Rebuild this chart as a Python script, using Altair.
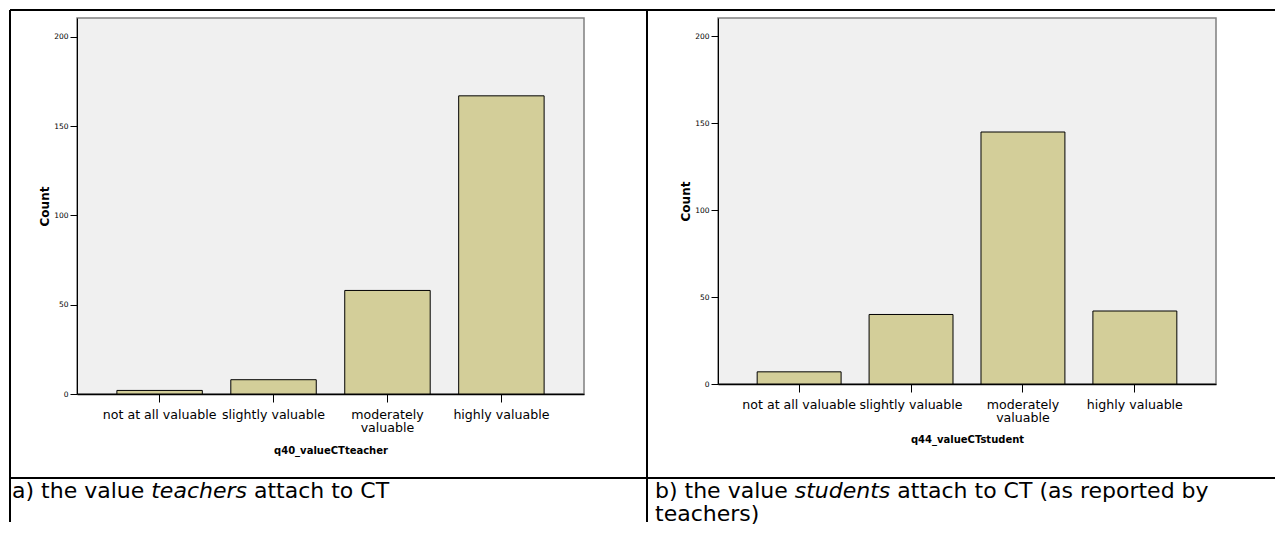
import altair as alt
import pandas as pd

# ---------------- data ----------------
categories = ["not at all valuable", "slightly valuable", "moderately valuable", "highly valuable"]
teacher_counts = [2, 8, 58, 167]
student_counts = [7, 40, 145, 42]
y_ticks = [0, 50, 100, 150, 200]
y_max = 210.6
teacher_axis_title = "q40_valueCTteacher"
student_axis_title = "q44_valueCTstudent"
caption_a = ["a) the value", "teachers", "attach to CT"]
caption_b = ["b) the value", "students", "attach to CT (as reported by", "teachers)"]

# ---------------- style ----------------
FONT = "DejaVu Sans"
BAR_FILL = "#d3ce99"
CAP_SIZE = 22

# DejaVu Sans advance widths (per 1000 em) used to butt caption segments together
W = {" ": 317.9, "a": 612.8, "b": 634.8, "c": 549.8, "d": 634.8, "e": 615.2, "h": 633.8,
     "i": 277.8, "l": 277.8, "n": 633.8, "o": 611.8, "p": 634.8, "r": 411.1, "s": 521.0,
     "t": 392.1, "u": 633.8, "v": 591.8, "y": 591.8, "C": 698.2, "T": 610.8, "(": 390.1, ")": 390.1}


def tw(s, size=CAP_SIZE):
    return sum(W.get(ch, 600) for ch in s) / 1000.0 * size


label_expr = "datum.value == 'moderately valuable' ? ['moderately', 'valuable'] : datum.label"

LW, LH = 507, 376   # left plot area
RW, RH = 498, 366   # right plot area


def bar_panel(counts, xtitle, w, h, title_y):
    df = pd.DataFrame({"category": categories, "count": counts})
    return alt.Chart(df).mark_bar(fill=BAR_FILL, stroke="black", strokeWidth=1).encode(
        x=alt.X(
            "category:N", sort=categories, title=xtitle,
            scale=alt.Scale(paddingInner=0.25, paddingOuter=0.35),
            axis=alt.Axis(
                labelAngle=0, labelExpr=label_expr, labelFont=FONT, labelFontSize=12.6,
                labelLineHeight=13, labelColor="black", labelPadding=6, labelOverlap=False,
                labelLimit=0, tickSize=8, tickColor="black", tickWidth=1,
                domainColor="black", domainWidth=1.5,
                titleFont=FONT, titleFontSize=10, titleFontWeight="bold", titleColor="black",
                titleY=title_y, titleBaseline="middle",
            ),
        ),
        y=alt.Y(
            "count:Q", title="Count",
            scale=alt.Scale(domain=[0, y_max], nice=False, zero=True),
            axis=alt.Axis(
                values=y_ticks, grid=False, labelFont=FONT, labelFontSize=7.5,
                labelColor="black", labelPadding=2, tickSize=7, tickColor="black",
                domainColor="black", domainWidth=1,
                titleFont=FONT, titleFontSize=12, titleFontWeight="bold", titleColor="black",
                titleX=-33, titleY=h / 2, titleAngle=270, titleAlign="center",
                titleBaseline="middle",
            ),
        ),
    ).properties(width=w, height=h)


one = pd.DataFrame({"k": [0]})


def rule(x1, y1, x2, y2):
    return alt.Chart(one).mark_rule(color="black", strokeWidth=2).encode(
        x=alt.value(x1), y=alt.value(y1), x2=alt.value(x2), y2=alt.value(y2)
    )


def text(s, x, y, italic=False):
    return alt.Chart(one).mark_text(
        align="left", baseline="alphabetic", font=FONT, fontSize=CAP_SIZE,
        fontStyle="italic" if italic else "normal", color="black",
    ).encode(x=alt.value(x), y=alt.value(y), text=alt.value(s))


# table frame, in coordinates relative to the left plot area (origin at page 77,18)
# kept inside the 1286x538 window so the page never overflows
TL, TT, TR, TB = -67, -8, 1198, 504
DIV_X = 570
ROW_Y = 460
table = [
    rule(TL, TT, TR, TT),
    rule(TL, TT, TL, TB),
    rule(DIV_X, TT, DIV_X, TB),
    rule(TL, ROW_Y, TR, ROW_Y),
]

sp = tw(" ")
ax0, bx0, base1, base2 = -65, 578, 480, 502.5
a1 = ax0 + tw(caption_a[0]) + sp
a2 = a1 + tw(caption_a[1]) + sp
b1 = bx0 + tw(caption_b[0]) + sp
b2 = b1 + tw(caption_b[1]) + sp
captions = [
    text(caption_a[0], ax0, base1),
    text(caption_a[1], a1, base1, italic=True),
    text(caption_a[2], a2, base1),
    text(caption_b[0], bx0, base1),
    text(caption_b[1], b1, base1, italic=True),
    text(caption_b[2], b2, base1),
    text(caption_b[3], bx0, base2),
]

left = alt.layer(bar_panel(teacher_counts, teacher_axis_title, LW, LH, 56), *table, *captions)
right = bar_panel(student_counts, student_axis_title, RW, RH, 55)

chart = alt.hconcat(left, right, spacing=134, bounds="flush").properties(
    padding=0
).configure_view(fill="#f0f0f0", stroke="#7f7f7f", strokeWidth=1.5)

chart.save("out.html", embed_options={"renderer": "svg", "actions": False})
